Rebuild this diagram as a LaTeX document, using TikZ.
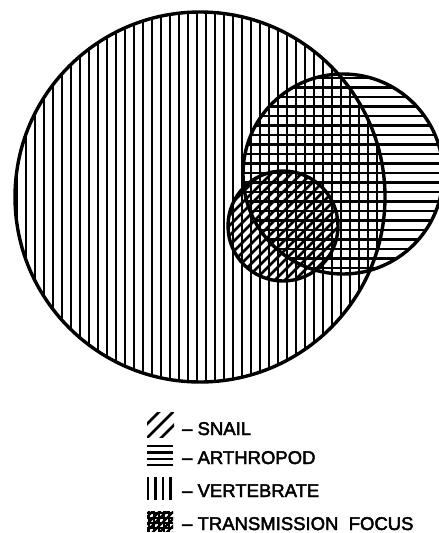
\documentclass[tikz,border=0pt]{standalone}
\usepackage{fontspec}
\setmainfont{Liberation Sans}
\newfontfamily\legfont[FakeBold=2.5]{Liberation Sans}
\begin{document}
\begin{tikzpicture}[x=1pt,y=-1pt,
  hatch/.style={line width=2.2pt},
  outline/.style={line width=3.4pt},
  legtext/.style={anchor=base west,inner sep=0pt,font=\legfont\fontsize{18.5}{20}\selectfont}]
\useasboundingbox (0,0) rectangle (439,533);
% vertebrate: vertical lines
\begin{scope}
  \clip (200,197) circle[radius=185];
  \foreach \x in {17,26,...,390} \draw[hatch] (\x,0) -- (\x,400);
\end{scope}
% arthropod: horizontal lines
\begin{scope}
  \clip (343,174) circle[radius=100];
  \foreach \y in {78,87.5,...,280} \draw[hatch] (230,\y) -- (450,\y);
\end{scope}
% snail: diagonal lines
\begin{scope}
  \clip (283,226) circle[radius=55];
  \foreach \c in {425,435,...,600} \draw[line width=2.8pt] (\c-140,140) -- (\c-300,300);
\end{scope}
% outlines
\draw[outline] (200,197) circle[radius=185];
\draw[outline] (343,174) circle[radius=100];
\draw[outline] (283,226) circle[radius=55];
% legend symbols
\begin{scope}
  \clip (147,412) rectangle (174,437);
  \foreach \c in {571,585,599} \draw[line width=2.6pt] (\c-410,410) -- (\c-440,440);
\end{scope}
\foreach \y in {446,452.5,459,465} \draw[hatch] (147,\y) -- (173,\y);
\foreach \x in {148,155.5,163,170.5} \draw[hatch] (\x,477) -- (\x,500);
\begin{scope}
  \clip (147,511) rectangle (173,531);
  \foreach \x in {149,154,...,173} \draw[hatch] (\x,508) -- (\x,535);
  \foreach \y in {513,518,...,532} \draw[hatch] (145,\y) -- (175,\y);
  \foreach \c in {650,657,...,720} \draw[hatch] (\c-500,500) -- (\c-540,540);
\end{scope}
% legend text
\node[legtext] (t1) at (182,435) {– SNAIL};
\node[legtext] (t2) at (182,464) {– ARTHROPOD};
\node[legtext] (t3) at (182,497) {– VERTEBRATE};
\node[legtext] (t4) at (182,530) {– TRANSMISSION\ \ FOCUS};
\end{tikzpicture}
\end{document}
